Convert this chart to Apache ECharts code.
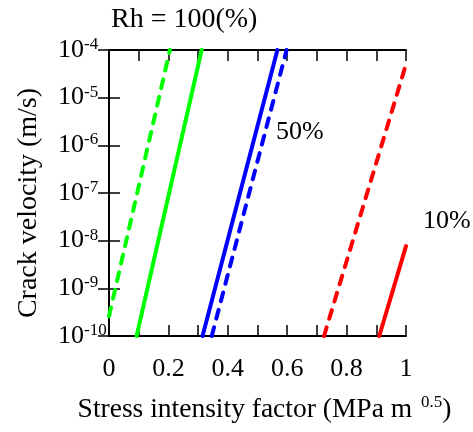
<!DOCTYPE html>
<html>
<head>
<meta charset="utf-8">
<script src="https://cdn.jsdelivr.net/npm/echarts@6/dist/echarts.min.js"></script>
<style>
  html, body { margin: 0; padding: 0; background: #fff; }
  #chart { width: 473px; height: 432px; }
</style>
</head>
<body>
<div id="chart"></div>
<script>
// Crack velocity vs stress intensity factor, at three relative humidities.
// Each curve is a straight line on the log-velocity scale: [K, v] end points.
const rh100Dashed = [[0.0, 2.6e-10], [0.205, 1e-4]];
const rh100Solid  = [[0.093, 1e-10], [0.312, 1e-4]];
const rh50Solid   = [[0.315, 1e-10], [0.567, 1e-4]];
const rh50Dashed  = [[0.346, 1e-10], [0.598, 1e-4]];
const rh10Dashed  = [[0.724, 1e-10], [1.0, 5e-5]];
const rh10Solid   = [[0.91, 1e-10], [1.0, 7.7e-9]];

const xTicks = [0, 0.2, 0.4, 0.6, 0.8, 1];
const yExponents = [-10, -9, -8, -7, -6, -5, -4];

const FONT = '"Liberation Serif", "Times New Roman", serif';
const GREEN = '#00ff00', BLUE = '#0000ff', RED = '#ff0000';

const chart = echarts.init(document.getElementById('chart'), null, { renderer: 'canvas' });

function line(data, color, dashed) {
  return {
    type: 'line',
    data: data,
    showSymbol: false,
    silent: true,
    clip: true,
    lineStyle: {
      color: color,
      width: 4,
      type: dashed ? [9, 9] : 'solid',
      cap: 'round'
    }
  };
}

const tickStyle = { color: '#000', width: 1.5 };

chart.setOption({
  animation: false,
  backgroundColor: '#fff',
  textStyle: { fontFamily: FONT },
  title: {
    text: 'Rh = 100(%)',
    left: 111,
    top: 6,
    padding: 0,
    textStyle: { fontFamily: FONT, fontSize: 28, fontWeight: 'normal', color: '#000' }
  },
  grid: { left: 109, top: 50, width: 297, height: 297, containLabel: false },
  xAxis: [
    {
      type: 'value',
      min: 0, max: 1, interval: 0.2,
      position: 'bottom',
      axisLine: { show: true, lineStyle: { color: '#000', width: 2 } },
      axisTick: { show: true, inside: true, length: 11, lineStyle: tickStyle },
      minorTick: { show: true, splitNumber: 2, length: 11, lineStyle: tickStyle },
      splitLine: { show: false },
      axisLabel: {
        margin: 20,
        fontFamily: FONT, fontSize: 26, color: '#000',
        formatter: v => {
          const t = xTicks.find(k => Math.abs(k - v) < 1e-9);
          return t === undefined ? '' : String(t);
        }
      },
      name: '{n|Stress intensity factor (MPa m }{s|0.5}{n|)}',
      nameLocation: 'middle',
      nameGap: 58,
      nameTextStyle: {
        padding: [0, 0, 0, 14],
        rich: {
          n: { fontFamily: FONT, fontSize: 27.5, color: '#000', verticalAlign: 'bottom', lineHeight: 30 },
          s: { fontFamily: FONT, fontSize: 17, color: '#000', verticalAlign: 'top', lineHeight: 30, padding: [0, 0, 16, 2] }
        }
      }
    },
    {
      type: 'value',
      min: 0, max: 1, interval: 0.2,
      position: 'top',
      axisLine: { show: true, lineStyle: { color: '#000', width: 2 } },
      axisTick: { show: true, inside: true, length: 11, lineStyle: tickStyle },
      minorTick: { show: true, splitNumber: 2, length: 11, lineStyle: tickStyle },
      splitLine: { show: false },
      axisLabel: { show: false }
    }
  ],
  yAxis: [
    {
      type: 'log',
      logBase: 10,
      min: 1e-10, max: 1e-4,
      position: 'left',
      axisLine: { show: true, lineStyle: { color: '#000', width: 2 } },
      axisTick: { show: true, inside: true, length: 11, lineStyle: tickStyle },
      minorTick: { show: false },
      splitLine: { show: false },
      axisLabel: {
        margin: 51,
        align: 'left',
        formatter: v => {
          const e = Math.round(Math.log10(v));
          return yExponents.includes(e) ? '{b|10}{s|' + e + '}' : '';
        },
        rich: {
          b: { fontFamily: FONT, fontSize: 26, color: '#000', lineHeight: 28, verticalAlign: 'middle' },
          s: { fontFamily: FONT, fontSize: 17, color: '#000', lineHeight: 28, verticalAlign: 'top', padding: [0, 0, 14, 0] }
        }
      }
    },
    {
      type: 'log',
      logBase: 10,
      min: 1e-10, max: 1e-4,
      position: 'right',
      axisLine: { show: true, lineStyle: { color: '#000', width: 2 } },
      axisTick: { show: true, inside: true, length: 11, lineStyle: tickStyle },
      splitLine: { show: false },
      axisLabel: { show: false }
    }
  ],
  graphic: [
    {
      // vertical axis title
      type: 'text', x: 29, y: 203, rotation: Math.PI / 2, silent: true,
      style: {
        text: 'Crack velocity (m/s)', font: '28px ' + FONT, fill: '#000',
        align: 'center', verticalAlign: 'middle'
      }
    },
    {
      type: 'text', left: 276, top: 119, silent: true,
      style: { text: '50%', font: '26px ' + FONT, fill: '#000' }
    },
    {
      type: 'text', left: 423, top: 208, silent: true,
      style: { text: '10%', font: '26px ' + FONT, fill: '#000' }
    }
  ],
  series: [
    line(rh100Dashed, GREEN, true),
    line(rh100Solid, GREEN, false),
    line(rh50Solid, BLUE, false),
    line(rh50Dashed, BLUE, true),
    line(rh10Dashed, RED, true),
    line(rh10Solid, RED, false)
  ]
});
</script>
</body>
</html>
